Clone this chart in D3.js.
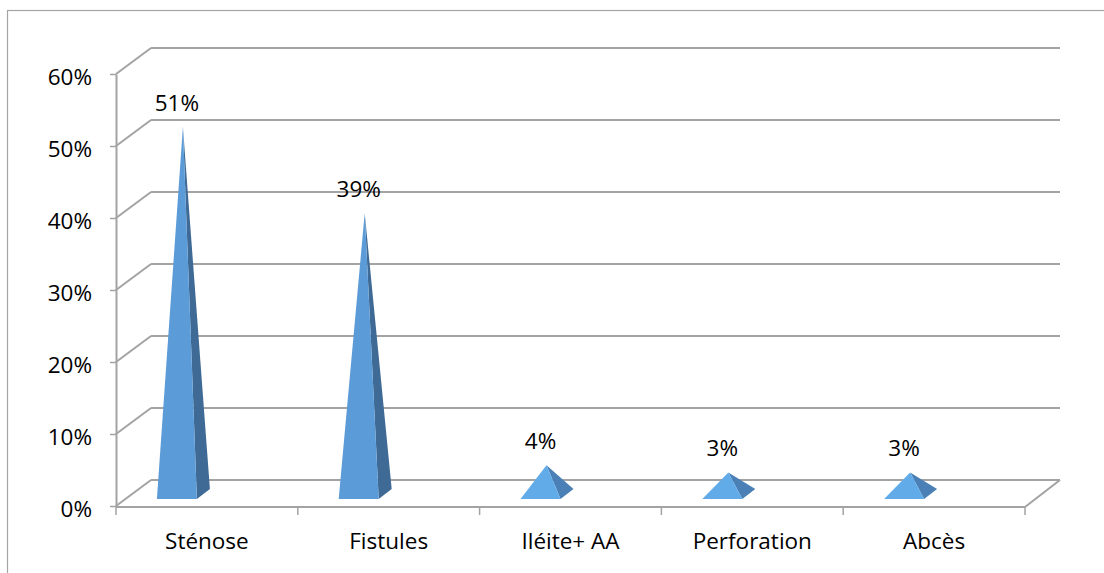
<!DOCTYPE html>
<html>
<head>
<meta charset="utf-8">
<script src="https://cdn.jsdelivr.net/npm/d3@7"></script>
<style>
  html, body { margin: 0; padding: 0; background: #fff; }
  svg { display: block; }
  text { font-family: "Open Sans", Lato, sans-serif; fill: #000; }
</style>
</head>
<body>
<svg id="chart" width="1104" height="573"></svg>
<script>
// Complication categories and their share (fraction of patients)
const categories = ["Sténose", "Fistules", "Iléite+ AA", "Perforation", "Abcès"];
const values = [0.51, 0.39, 0.04, 0.03, 0.03];
const valueLabels = ["51%", "39%", "4%", "3%", "3%"];
const tickValues = [0, 0.1, 0.2, 0.3, 0.4, 0.5, 0.6];
const tickLabels = ["0%", "10%", "20%", "30%", "40%", "50%", "60%"];

const fontFamily = "'Open Sans', Lato, sans-serif";
const fontSize = "22.5px";

const svg = d3.select("#chart");

// Outer chart frame
svg.append("rect")
  .attr("x", 7.5).attr("y", 10.5)
  .attr("width", 1120).attr("height", 600)
  .attr("fill", "none").attr("stroke", "#a5a5a5").attr("stroke-width", 1.2);

// Front plane scales
const x = d3.scaleBand().domain(categories).range([116, 1025]).paddingInner(0).paddingOuter(0);
const y = d3.scaleLinear().domain([0, 0.6]).range([506, 74]);

// Oblique depth offset of the back wall
const depth = { dx: 35, dy: -26 };

const gridColor = "#a3a3a3";
const grid = svg.append("g");

// Back-wall gridlines with their ledges reaching from the front axis
tickValues.forEach(t => {
  const yf = y(t), yb = y(t) + depth.dy;
  grid.append("line")
    .attr("x1", 116 + depth.dx).attr("x2", 1025 + depth.dx)
    .attr("y1", yb).attr("y2", yb)
    .attr("stroke", gridColor).attr("stroke-width", 2);
  grid.append("line")
    .attr("x1", 116).attr("y1", yf)
    .attr("x2", 116 + depth.dx).attr("y2", yb)
    .attr("stroke", gridColor).attr("stroke-width", 2);
});

// Floor: front edge and right-hand diagonal
grid.append("line")
  .attr("x1", 116).attr("x2", 1025).attr("y1", y(0) + 1).attr("y2", y(0) + 1)
  .attr("stroke", gridColor).attr("stroke-width", 2);
grid.append("line")
  .attr("x1", 1025).attr("y1", y(0) + 1)
  .attr("x2", 1025 + depth.dx).attr("y2", y(0) + depth.dy)
  .attr("stroke", gridColor).attr("stroke-width", 2);

// Category boundary tick marks
const bounds = categories.map(c => x(c)).concat([x.range()[1]]);
grid.selectAll(".xt").data(bounds).join("line")
  .attr("x1", d => d).attr("x2", d => d)
  .attr("y1", y(0) + 1).attr("y2", y(0) + 9)
  .attr("stroke", gridColor).attr("stroke-width", 1.5);

// Vertical value axis
const yAxis = d3.axisLeft(y)
  .tickValues(tickValues)
  .tickFormat((d, i) => tickLabels[i])
  .tickSize(6).tickSizeOuter(0).tickPadding(18);
const ga = svg.append("g").attr("transform", "translate(116,0)").call(yAxis);
ga.select(".domain").attr("stroke", gridColor).attr("stroke-width", 2);
ga.selectAll(".tick line").attr("stroke", gridColor).attr("stroke-width", 1.5);
ga.selectAll(".tick text")
  .style("font-family", fontFamily)
  .style("font-size", fontSize).attr("fill", "#000").attr("dy", "0.45em");

// Category labels
svg.append("g").selectAll("text").data(categories).join("text")
  .attr("x", d => x(d) + x.bandwidth() / 2)
  .attr("y", 549)
  .attr("text-anchor", "middle")
  .style("font-family", fontFamily)
  .style("font-size", fontSize)
  .text(d => d);

// Pyramids
const baseFrontY = y(0) - 7;   // front edge of the base
const baseBackY = y(0) - 17;   // back edge of the base
const midShift = -12;          // apex sits at mid-depth of the base

const pyr = svg.append("g");
categories.forEach((c, i) => {
  const cx = x(c) + x.bandwidth() / 2;
  const v = values[i];
  const apex = [cx - 24, y(v) + midShift];
  const fl = [cx - 50, baseFrontY];
  const fr = [cx - 10, baseFrontY];
  const br = [cx + 3, baseBackY];
  const tall = v > 0.1;
  const frontFill = tall ? "#5b9bd8" : "#62abe9";
  const sideFill = tall ? "#3e6a95" : "#4a80b5";
  pyr.append("path")
    .attr("d", d3.line()([fr, br, apex]) + "Z")
    .attr("fill", sideFill);
  pyr.append("path")
    .attr("d", d3.line()([fl, fr, apex]) + "Z")
    .attr("fill", frontFill);
  svg.append("text")
    .attr("x", apex[0] - 6)
    .attr("y", apex[1] - 16)
    .attr("text-anchor", "middle")
    .style("font-family", fontFamily)
    .style("font-size", fontSize)
    .text(valueLabels[i]);
});
</script>
</body>
</html>
